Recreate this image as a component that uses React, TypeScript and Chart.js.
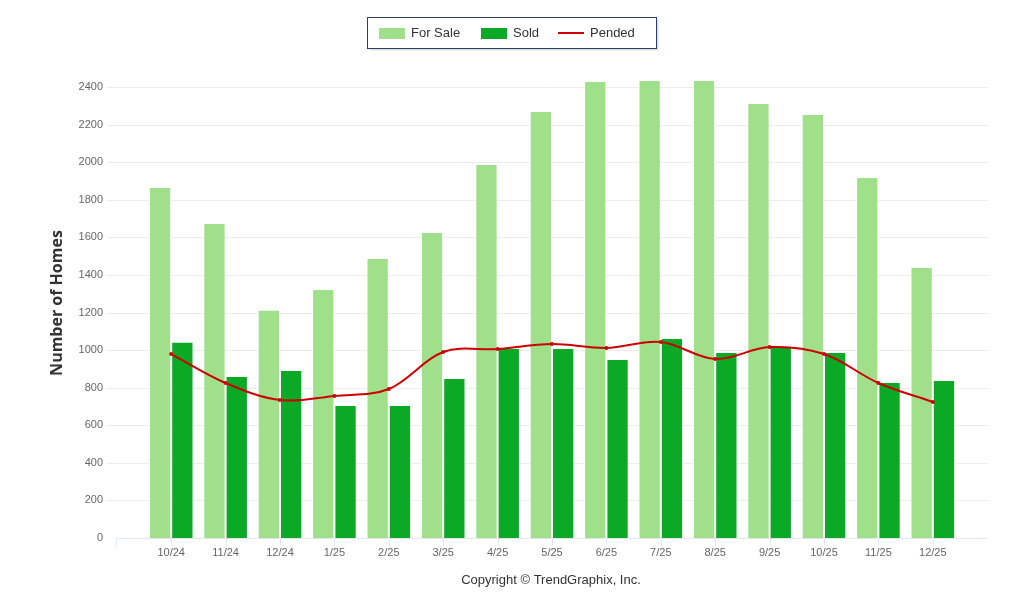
import React, { useEffect, useRef } from "react";
import { Chart, registerables } from "chart.js";

Chart.register(...registerables);

const categories = ["10/24", "11/24", "12/24", "1/25", "2/25", "3/25", "4/25", "5/25", "6/25", "7/25", "8/25", "9/25", "10/25", "11/25", "12/25"];
const forSale = [1868, 1676, 1215, 1325, 1490, 1628, 1990, 2272, 2432, 2437, 2437, 2315, 2256, 1921, 1442];
const sold = [1045, 862, 894, 708, 708, 851, 1011, 1011, 953, 1064, 990, 1016, 990, 830, 841];
const pended = [979, 825, 734, 756, 793, 990, 1006, 1032, 1011, 1043, 953, 1016, 979, 825, 724];
const yTicks = [0, 200, 400, 600, 800, 1000, 1200, 1400, 1600, 1800, 2000, 2200, 2400];

const FOR_SALE_COLOR = "#a1e08b";
const SOLD_COLOR = "#0aaa26";
const PENDED_COLOR = "#cc0000";

const GRID_LEFT = 107;
const GRID_RIGHT = 988;

const decorPlugin = {
  id: "decor",
  beforeDatasetsDraw(chart: any) {
    const ctx = chart.ctx;
    const y = chart.scales.y;
    const x = chart.scales.x;
    ctx.save();
    ctx.strokeStyle = "#ececec";
    ctx.lineWidth = 1;
    yTicks.forEach((v) => {
      if (v === 0) return;
      const py = Math.round(y.getPixelForValue(v)) + 0.5;
      ctx.beginPath();
      ctx.moveTo(GRID_LEFT, py);
      ctx.lineTo(GRID_RIGHT, py);
      ctx.stroke();
    });
    const by = Math.round(y.getPixelForValue(0)) + 0.5;
    ctx.strokeStyle = "#e3e6ec";
    ctx.beginPath();
    ctx.moveTo(116, by);
    ctx.lineTo(GRID_RIGHT, by);
    ctx.stroke();
    ctx.beginPath();
    ctx.moveTo(116.5, by);
    ctx.lineTo(116.5, by + 8);
    categories.forEach((_, i) => {
      const px = Math.round(x.getPixelForValue(i)) + 0.5;
      ctx.moveTo(px, by);
      ctx.lineTo(px, by + 7);
    });
    ctx.stroke();
    ctx.restore();
  },
  afterDraw(chart: any) {
    const ctx = chart.ctx;
    ctx.save();
    ctx.translate(57, 303);
    ctx.rotate(-Math.PI / 2);
    ctx.fillStyle = "#333333";
    ctx.font = "bold 16px 'Open Sans', 'DejaVu Sans', sans-serif";
    ctx.textAlign = "center";
    ctx.textBaseline = "middle";
    ctx.fillText("Number of Homes", 0, 0);
    ctx.restore();

    ctx.save();
    ctx.fillStyle = "#333333";
    ctx.font = "13px 'Liberation Sans', Arial, sans-serif";
    ctx.textAlign = "center";
    ctx.textBaseline = "middle";
    ctx.fillText("Copyright \u00a9 TrendGraphix, Inc.", 551, 580);
    ctx.restore();

    ctx.save();
    const lx = 367.5, ly = 17.5, lw = 289, lh = 31;
    ctx.fillStyle = "rgba(0,0,0,0.12)";
    ctx.fillRect(lx + 2, ly + 2, lw, lh);
    ctx.fillStyle = "#ffffff";
    ctx.fillRect(lx, ly, lw, lh);
    ctx.strokeStyle = "#2c3e6b";
    ctx.lineWidth = 1;
    ctx.strokeRect(lx, ly, lw, lh);
    ctx.font = "13px 'Liberation Sans', Arial, sans-serif";
    ctx.textBaseline = "middle";
    ctx.textAlign = "left";
    const cy = 33;
    ctx.fillStyle = FOR_SALE_COLOR;
    ctx.fillRect(379, cy - 5, 26, 11);
    ctx.fillStyle = "#333333";
    ctx.fillText("For Sale", 411, cy);
    ctx.fillStyle = SOLD_COLOR;
    ctx.fillRect(481, cy - 5, 26, 11);
    ctx.fillStyle = "#333333";
    ctx.fillText("Sold", 513, cy);
    ctx.strokeStyle = PENDED_COLOR;
    ctx.lineWidth = 2;
    ctx.beginPath();
    ctx.moveTo(558, cy);
    ctx.lineTo(584, cy);
    ctx.stroke();
    ctx.fillStyle = "#333333";
    ctx.fillText("Pended", 590, cy);
    ctx.restore();
  },
};

export default function App() {
  const ref = useRef<HTMLCanvasElement | null>(null);
  useEffect(() => {
    document.body.style.margin = "0";
    const canvas = ref.current;
    if (!canvas) return;
    const chart = new Chart(canvas, {
      type: "bar",
      data: {
        labels: categories,
        datasets: [
          {
            type: "line",
            label: "Pended",
            data: pended,
            borderColor: PENDED_COLOR,
            backgroundColor: PENDED_COLOR,
            borderWidth: 2,
            pointRadius: 2,
            pointHoverRadius: 2,
            pointBorderWidth: 0,
            tension: 0.35,
            order: 0,
          } as any,
          {
            label: "For Sale",
            data: forSale,
            backgroundColor: FOR_SALE_COLOR,
            borderColor: "#ffffff",
            borderWidth: 1,
            categoryPercentage: 0.82,
            barPercentage: 1.0,
            order: 1,
          },
          {
            label: "Sold",
            data: sold,
            backgroundColor: SOLD_COLOR,
            borderColor: "#ffffff",
            borderWidth: 1,
            categoryPercentage: 0.82,
            barPercentage: 1.0,
            order: 1,
          },
        ],
      },
      options: {
        responsive: false,
        animation: false,
        layout: { padding: { top: 72, right: 64, bottom: 46, left: 0 } },
        plugins: { legend: { display: false }, tooltip: { enabled: false } },
        scales: {
          x: {
            offset: true,
            grid: { display: false, drawTicks: false },
            border: { display: false },
            ticks: {
              padding: 8,
              color: "#666666",
              font: { family: "'Liberation Sans', Arial", size: 11 },
              maxRotation: 0,
            },
            afterFit(scale: any) {
              scale.height = 30;
            },
          },
          y: {
            min: 0,
            max: 2480,
            afterBuildTicks(scale: any) {
              scale.ticks = yTicks.map((v) => ({ value: v }));
            },
            grid: { display: false, drawTicks: false },
            border: { display: false },
            ticks: {
              padding: 41,
              color: "#666666",
              font: { family: "'Liberation Sans', Arial", size: 11 },
              callback: (v: any) => String(v),
            },
            afterFit(scale: any) {
              scale.width = 144;
            },
          },
        },
      },
      plugins: [decorPlugin],
    });
    return () => chart.destroy();
  }, []);
  return (
    <div style={{ width: 1024, height: 614 }}>
      <canvas ref={ref} width={1024} height={614} style={{ display: "block" }} />
    </div>
  );
}
